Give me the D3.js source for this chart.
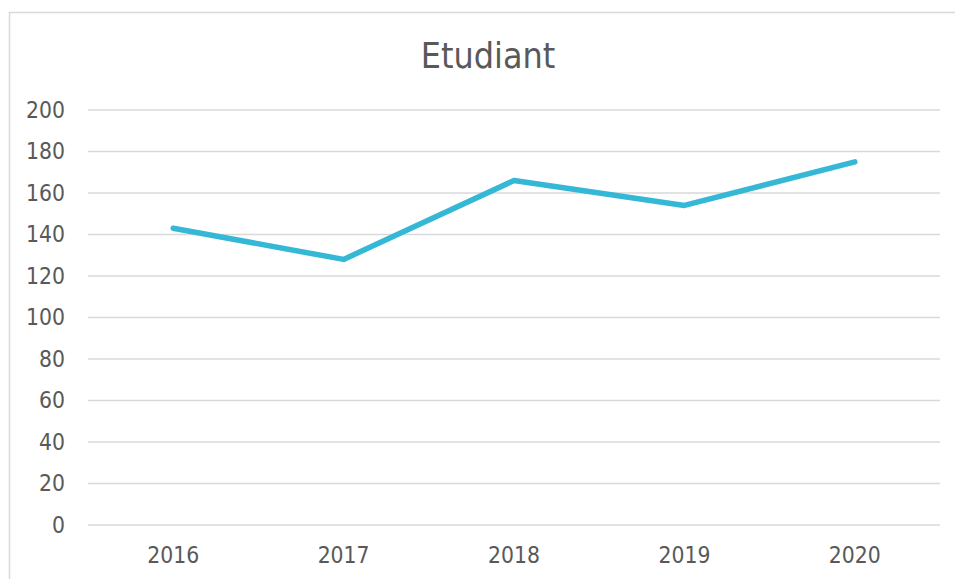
<!DOCTYPE html>
<html>
<head>
<meta charset="utf-8">
<script src="https://cdn.jsdelivr.net/npm/d3@7"></script>
<style>
  body { margin: 0; background: #fff; }
  text { font-family: "DejaVu Sans Condensed", "DejaVu Sans", sans-serif; fill: #595959; }
</style>
</head>
<body>
<div id="chart"></div>
<script>
var years = ["2016", "2017", "2018", "2019", "2020"];
var etudiants = [143, 128, 166, 154, 175];
var yTicks = [0, 20, 40, 60, 80, 100, 120, 140, 160, 180, 200];

var width = 955, height = 579;
var margin = { top: 110, right: 15, bottom: 54, left: 88 };

var svg = d3.select("#chart").append("svg")
  .attr("width", width)
  .attr("height", height);

// chart frame
svg.append("rect")
  .attr("x", 9.5).attr("y", 12.5)
  .attr("width", 960).attr("height", 600)
  .attr("fill", "none")
  .attr("stroke", "#d9d9d9")
  .attr("stroke-width", 1.5);

var x = d3.scaleBand().domain(years).range([margin.left, width - margin.right]);
var y = d3.scaleLinear().domain([0, 200]).range([height - margin.bottom, margin.top]);

// grid
svg.append("g")
  .selectAll("line")
  .data(yTicks)
  .join("line")
  .attr("x1", margin.left).attr("x2", width - margin.right)
  .attr("y1", d => y(d)).attr("y2", d => y(d))
  .attr("stroke", "#d9d9d9")
  .attr("stroke-width", 1.5);

// y axis labels
var yAxis = svg.append("g")
  .attr("transform", `translate(${margin.left - 23},0)`)
  .call(d3.axisLeft(y).tickValues(yTicks).tickSize(0).tickPadding(0));
yAxis.select(".domain").remove();
yAxis.selectAll("text")
  .attr("font-size", 22.7)
  .attr("fill", "#595959")
  .style("font-family", "'DejaVu Sans Condensed', 'DejaVu Sans', sans-serif");

// x axis labels
var xAxis = svg.append("g")
  .attr("transform", `translate(0,${height - margin.bottom})`)
  .call(d3.axisBottom(x).tickSize(0).tickPadding(22));
xAxis.select(".domain").remove();
xAxis.selectAll("text")
  .attr("font-size", 22.7)
  .attr("fill", "#595959")
  .style("font-family", "'DejaVu Sans Condensed', 'DejaVu Sans', sans-serif");

// line
var line = d3.line()
  .x((d, i) => x(years[i]) + x.bandwidth() / 2)
  .y(d => y(d));

svg.append("path")
  .datum(etudiants)
  .attr("d", line)
  .attr("fill", "none")
  .attr("stroke", "#35b8d5")
  .attr("stroke-width", 5.5)
  .attr("stroke-linecap", "round")
  .attr("stroke-linejoin", "round");

// title
svg.append("text")
  .attr("x", 488)
  .attr("y", 68)
  .attr("text-anchor", "middle")
  .attr("font-size", 35.5)
  .text("Etudiant");
</script>
</body>
</html>
